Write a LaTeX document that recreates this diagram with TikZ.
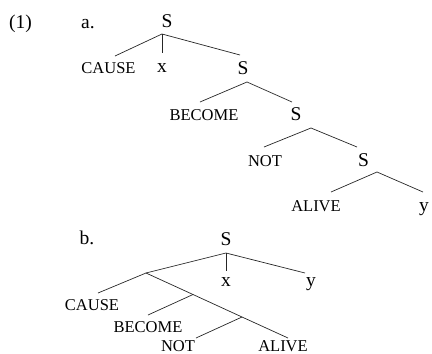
\documentclass[tikz,border=0pt]{standalone}
\usepackage{fontspec}
\setmainfont{Liberation Serif}
\begin{document}
\begin{tikzpicture}[x=1pt,y=-1pt,
  big/.style={font=\fontsize{19.5}{22}\selectfont, inner sep=0pt, anchor=base},
  lab/.style={font=\fontsize{16.5}{19}\selectfont, inner sep=0pt, anchor=base},
  edge/.style={line width=0.7pt, draw=black!85}]
\useasboundingbox (0,0) rectangle (432,354);
% labels
\node[big] (num) at (20.5,28) {(1)};
\node[big] (la) at (88,28) {a.};
\node[big] (lb) at (87,244) {b.};
% ---- tree a ----
\node[big] (aS1) at (167,27) {S};
\coordinate (aB1) at (162,34);
\coordinate (aE1) at (115,56);
\coordinate (aE2) at (162,53);
\coordinate (aE3) at (240,55);
\node[lab] (aCause) at (108.5,73) {CAUSE};
\node[big] (ax) at (162,72) {x};
\node[big] (aS2) at (243,74) {S};
\coordinate (aB2) at (247,82);
\coordinate (aE4) at (200,102);
\coordinate (aE5) at (292,102);
\node[lab] (aBecome) at (204,120) {BECOME};
\node[big] (aS3) at (296,120) {S};
\coordinate (aB3) at (311,128);
\coordinate (aE6) at (264,147);
\coordinate (aE7) at (357,147);
\node[lab] (aNot) at (265,166) {NOT};
\node[big] (aS4) at (363.5,166) {S};
\coordinate (aB4) at (377,172);
\coordinate (aE8) at (331,192);
\coordinate (aE9) at (423,192);
\node[lab] (aAlive) at (316,211) {ALIVE};
\node[big] (ay) at (424,211) {y};
\draw[edge] (aE1) -- (aB1) -- (aE3);
\draw[edge] (aB1) -- (aE2);
\draw[edge] (aE4) -- (aB2) -- (aE5);
\draw[edge] (aE6) -- (aB3) -- (aE7);
\draw[edge] (aE8) -- (aB4) -- (aE9);
% ---- tree b ----
\node[big] (bS) at (226,245) {S};
\coordinate (bB1) at (226,253);
\coordinate (bEx) at (226,271);
\coordinate (bEy) at (305,273);
\node[big] (bx) at (226,286) {x};
\node[big] (by) at (311,286) {y};
\coordinate (bB2) at (146,273);
\coordinate (bE1) at (98,293);
\coordinate (bB3) at (193,294.5);
\coordinate (bB4) at (242,317);
\coordinate (bE2) at (148,315);
\coordinate (bE3) at (196,338);
\coordinate (bE4) at (288,338);
\node[lab] (bCause) at (92,310) {CAUSE};
\node[lab] (bBecome) at (148,332) {BECOME};
\node[lab] (bNot) at (178,351) {NOT};
\node[lab] (bAlive) at (283,351) {ALIVE};
\draw[edge] (bB2) -- (bB1) -- (bEy);
\draw[edge] (bB1) -- (bEx);
\draw[edge] (bE1) -- (bB2) -- (bB3) -- (bB4) -- (bE4);
\draw[edge] (bB3) -- (bE2);
\draw[edge] (bB4) -- (bE3);
\end{tikzpicture}
\end{document}
